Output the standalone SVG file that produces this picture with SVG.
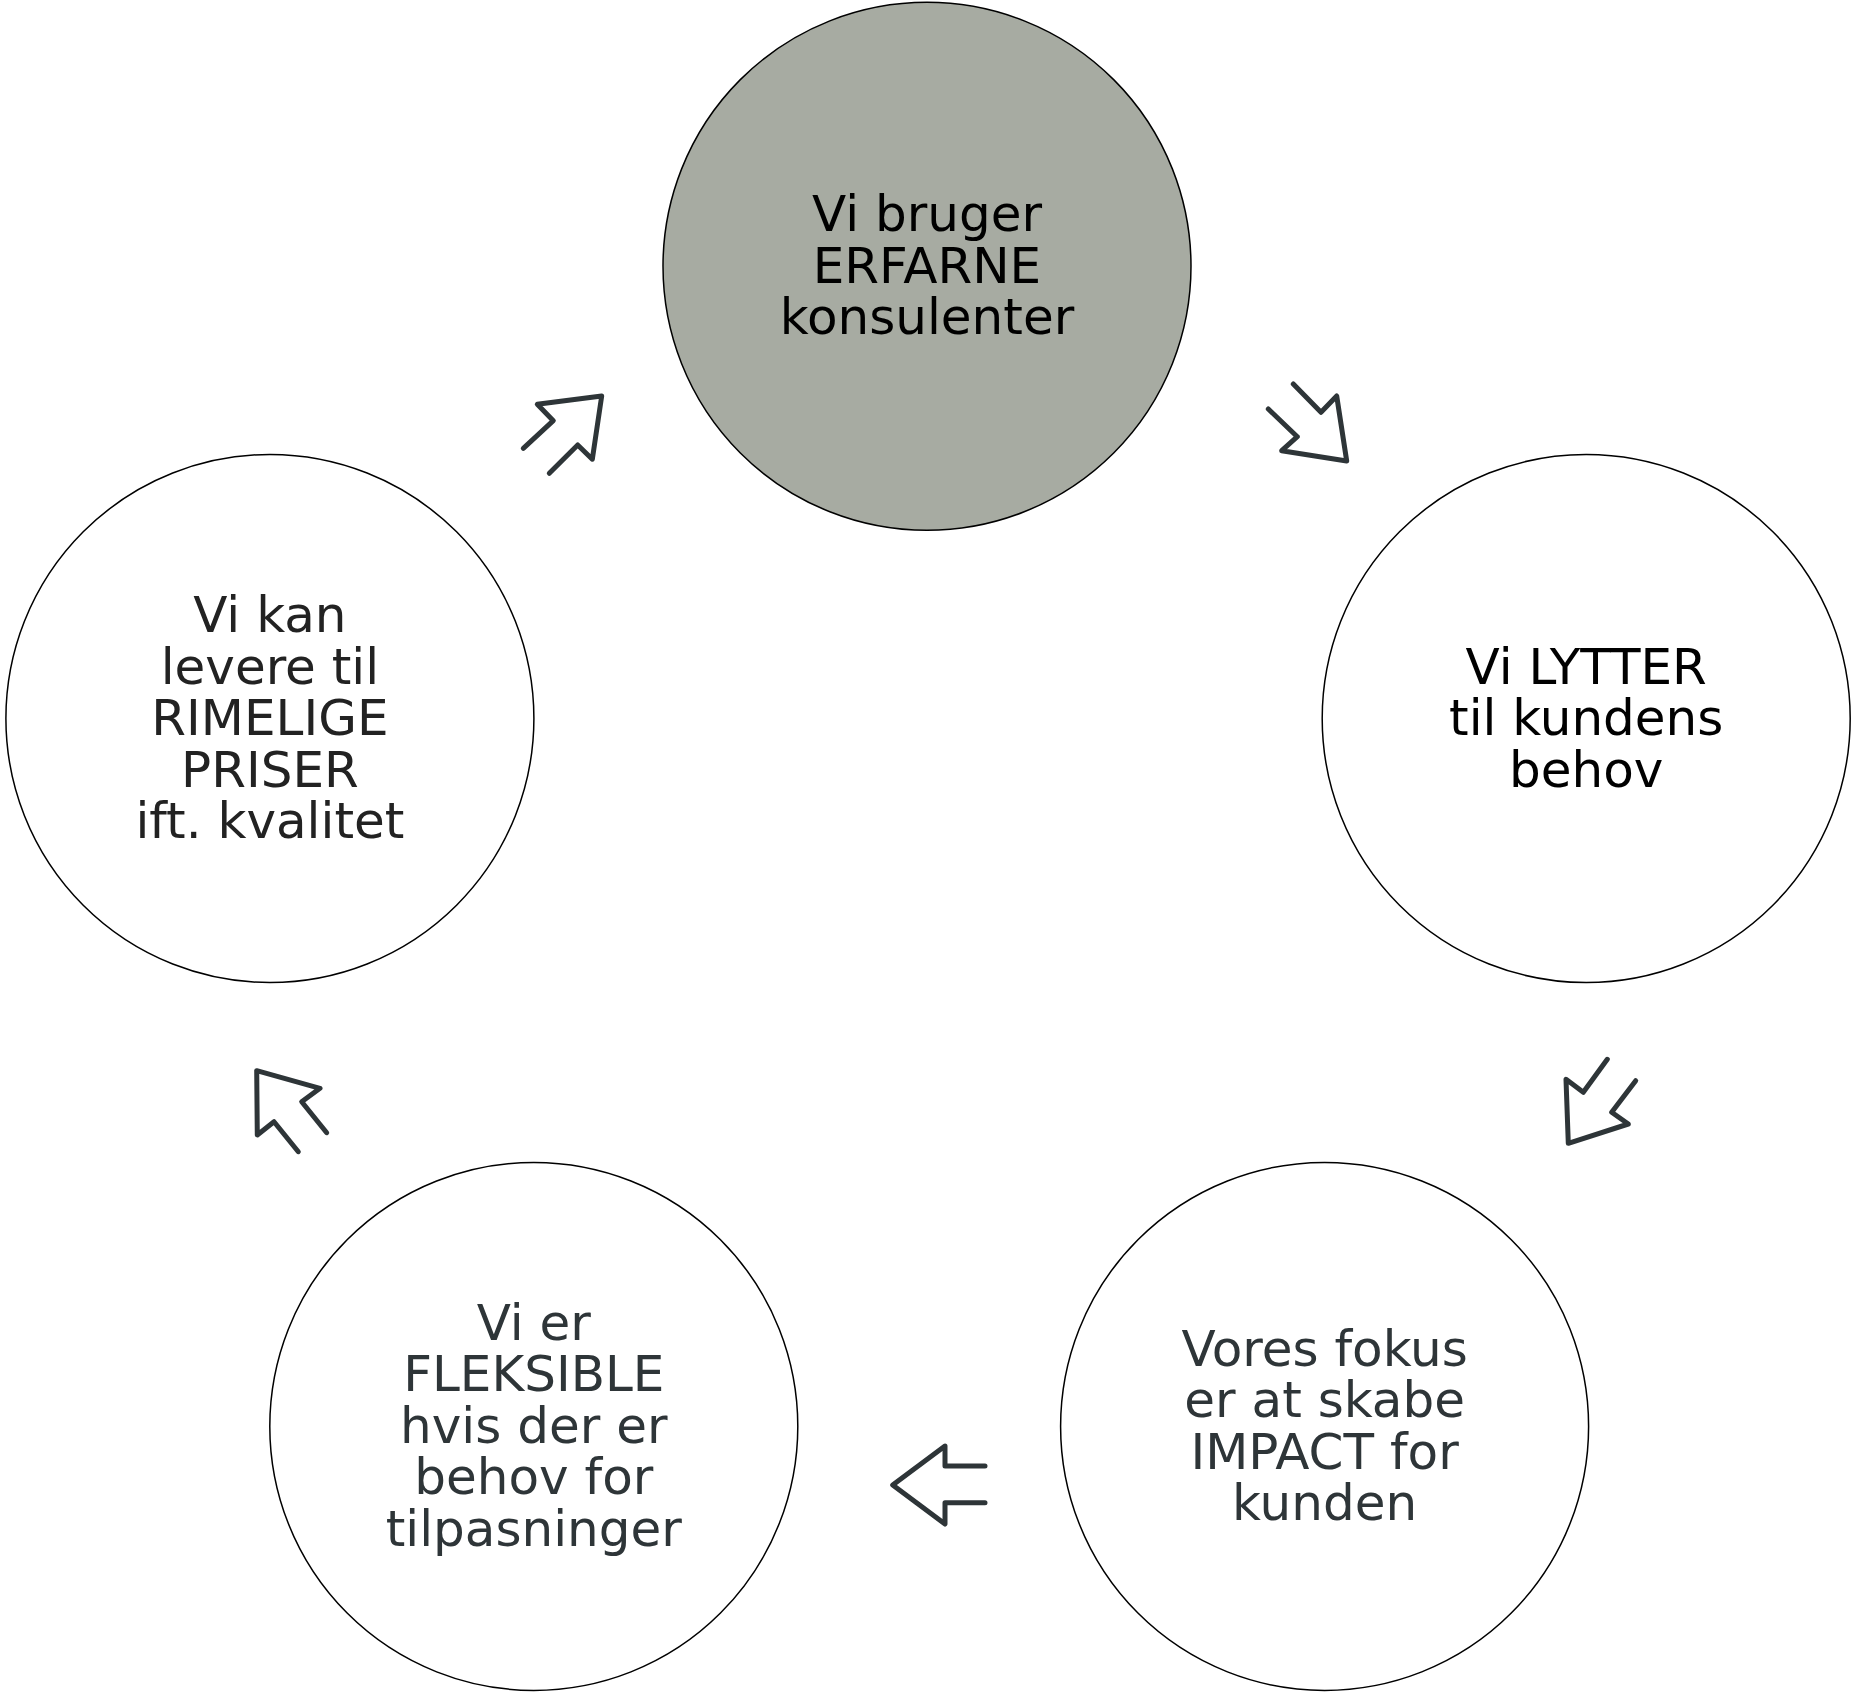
<svg xmlns="http://www.w3.org/2000/svg" width="1856" height="1695" viewBox="0 0 1856 1695">
<style>
.c{fill:#ffffff;stroke:#000000;stroke-width:1.5}
.c0{fill:#a7aba2;stroke:#000000;stroke-width:1.5}
text{font-family:"DejaVu Sans","Verdana",sans-serif;font-size:50px;text-anchor:middle}
.k{fill:#000000}
.d{fill:#222222}
.g{fill:#2e3538}
.a{fill:none;stroke:#2e3538;stroke-width:5;stroke-linejoin:round;stroke-linecap:round}
</style>
<rect width="1856" height="1695" fill="#ffffff"/>
<g id="node-erfarne">
<circle class="c0" cx="927" cy="266.3" r="264"/>
<text class="k" x="927" y="231">Vi bruger</text>
<text class="k" x="927" y="282.5">ERFARNE</text>
<text class="k" x="927" y="334">konsulenter</text>
</g>
<g id="node-lytter">
<circle class="c" cx="1586.2" cy="718.5" r="264"/>
<text class="k" x="1586.2" y="683.5">Vi LYTTER</text>
<text class="k" x="1586.2" y="735">til kundens</text>
<text class="k" x="1586.2" y="786.5">behov</text>
</g>
<g id="node-impact">
<circle class="c" cx="1324.6" cy="1426.4" r="264"/>
<text class="g" x="1324.6" y="1365.5">Vores fokus</text>
<text class="g" x="1324.6" y="1417">er at skabe</text>
<text class="g" x="1324.6" y="1468.5">IMPACT for</text>
<text class="g" x="1324.6" y="1520">kunden</text>
</g>
<g id="node-fleksible">
<circle class="c" cx="533.8" cy="1426.4" r="264"/>
<text class="g" x="533.8" y="1339.5">Vi er</text>
<text class="g" x="533.8" y="1391">FLEKSIBLE</text>
<text class="g" x="533.8" y="1442.5">hvis der er</text>
<text class="g" x="533.8" y="1494">behov for</text>
<text class="g" x="533.8" y="1545.5">tilpasninger</text>
</g>
<g id="node-priser">
<circle class="c" cx="269.9" cy="718.5" r="264"/>
<text class="d" x="269.9" y="632">Vi kan</text>
<text class="d" x="269.9" y="683.5">levere til</text>
<text class="d" x="269.9" y="735">RIMELIGE</text>
<text class="d" x="269.9" y="786.5">PRISER</text>
<text class="d" x="269.9" y="838">ift. kvalitet</text>
</g>
<g id="connectors">
<polyline class="a" points="1293.3,384 1321,412.3 1336.7,396 1346.7,461 1281.7,450.7 1297.3,436.7 1268.3,409"/>
<polyline class="a" points="1607.3,1059.3 1583.3,1092.3 1566,1079.3 1568.3,1143.3 1628.3,1124 1611.7,1112.3 1635.7,1080.7"/>
<polyline class="a" points="985,1466 945,1466 945,1446 892.7,1485 945,1524 945,1502.7 985,1502.7"/>
<polyline class="a" points="326.7,1132.7 301.7,1101.7 320,1088.3 256.7,1070.7 257.3,1135 274,1121.7 298.3,1151.7"/>
<polyline class="a" points="523.3,448.3 553.3,420.7 537.3,404.3 601.7,396 592.3,459.3 577.7,445 549.3,473.3"/>
</g>
</svg>
